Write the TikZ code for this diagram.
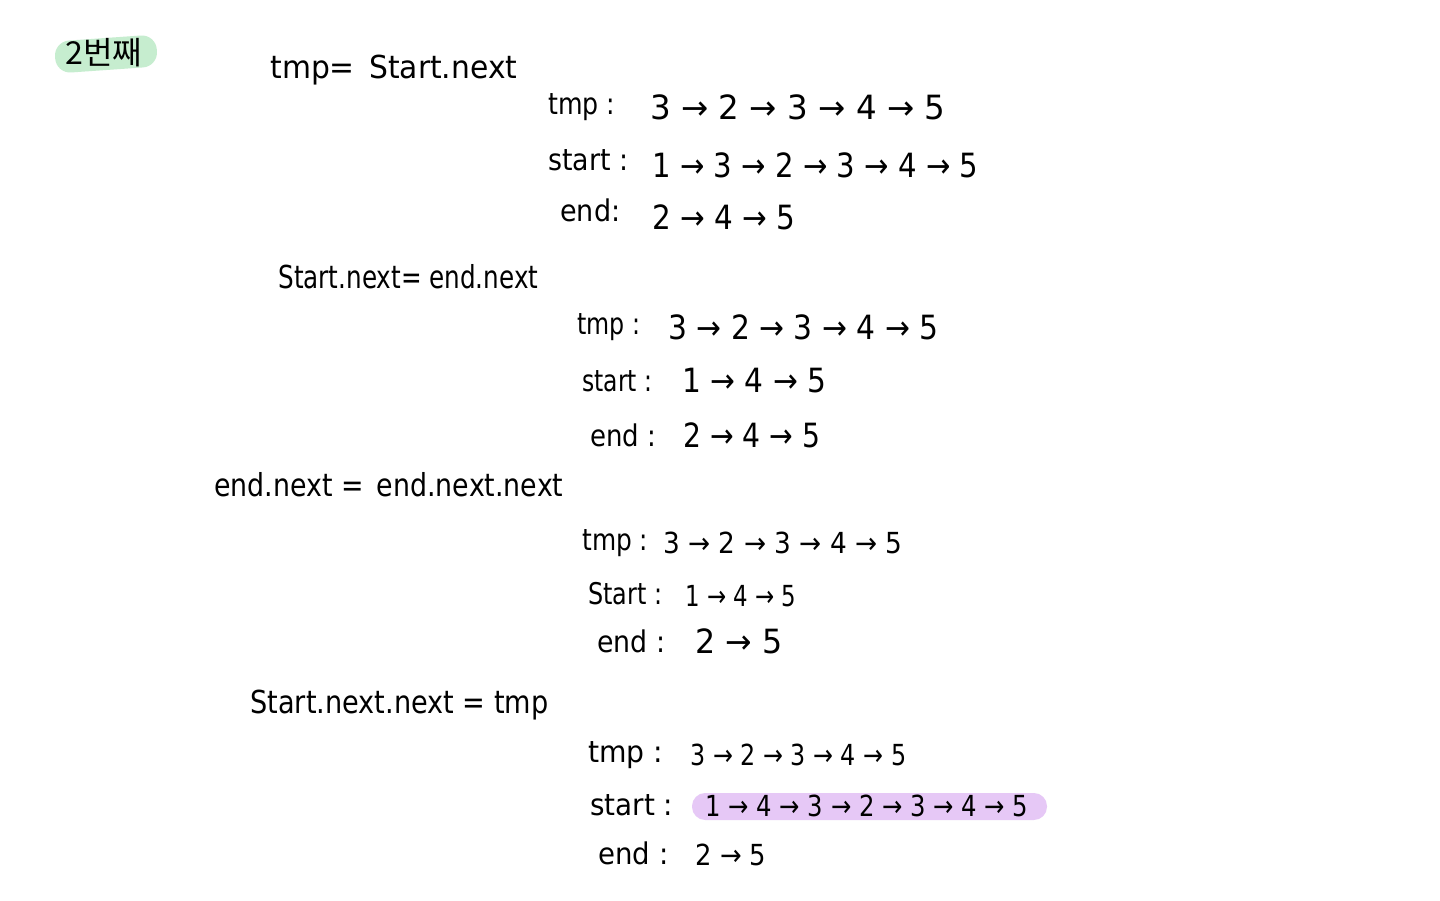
\documentclass[tikz,border=0pt]{standalone}
\usepackage{fontspec}
\setmainfont{DejaVu Sans}
\newfontfamily\krfont{Noto Sans CJK KR}
\usepackage{graphicx}
\usepackage{tikz}
\usetikzlibrary{positioning}

\definecolor{mintmark}{HTML}{C6EDCF}
\definecolor{lilacmark}{HTML}{E6C8F6}
% squeeze a line of writing to a width given in pixels
\newlength\pxu
\setlength\pxu{0.02cm}
\newcommand\fitpx[2]{\resizebox{#1\pxu}{\height}{#2}}

\begin{document}
\begin{tikzpicture}[x=0.02cm, y=-0.02cm,
  code/.style={anchor=west, inner sep=0pt, font=\fontsize{18}{21}\selectfont},
  lbl/.style={anchor=west, inner sep=0pt, font=\fontsize{17}{20}\selectfont},
  val/.style={anchor=west, inner sep=0pt, font=\fontsize{19}{22}\selectfont},
  smallval/.style={val, font=\fontsize{16.5}{19}\selectfont}]
\useasboundingbox (0,0) rectangle (1440,901);
\fill[white] (0,0) rectangle (1440,901);

% marker strokes
\fill[mintmark, rounded corners=8.5pt, rotate around={4:(106,54)}] (55,38) rectangle (157,70);
\fill[lilacmark, rounded corners=7.5pt] (692,793) rectangle (1047,820);
\node[inner sep=0pt, font=\krfont\fontsize{18}{20}\selectfont] (tag) at (104,53) {\fitpx{77}{2번째}};

% step 1
\node[code] (c1) at (270,70) {\fitpx{247}{tmp=\, Start.next}};
\node[lbl] (t1) at (548,107) {\fitpx{67}{tmp :}};
\node[val] (t1v) at (650,107) {\fitpx{295}{3 → 2 → 3 → 4 → 5}};
\node[lbl] (s1) at (548,160) {\fitpx{80}{start :}};
\node[val] (s1v) at (652,165) {\fitpx{326}{1 → 3 → 2 → 3 → 4 → 5}};
\node[lbl] (e1) at (560,210) {\fitpx{60}{end:}};
\node[val] (e1v) at (652,217) {\fitpx{143}{2 → 4 → 5}};

% step 2
\node[code] (c2) at (278,277) {\fitpx{260}{Start.next= end.next}};
\node[lbl] (t2) at (577,327) {\fitpx{63}{tmp :}};
\node[val] (t2v) at (668,327) {\fitpx{270}{3 → 2 → 3 → 4 → 5}};
\node[lbl] (s2) at (582,381) {\fitpx{70}{start :}};
\node[val] (s2v) at (682,381) {\fitpx{144}{1 → 4 → 5}};
\node[lbl] (e2) at (590,435) {\fitpx{66}{end :}};
\node[val] (e2v) at (683,435) {\fitpx{137}{2 → 4 → 5}};

% step 3
\node[code] (c3) at (214,485) {\fitpx{349}{end.next =\, end.next.next}};
\node[lbl] (t3) at (582,543) {\fitpx{66}{tmp :}};
\node[smallval] (t3v) at (663,543) {\fitpx{239}{3 → 2 → 3 → 4 → 5}};
\node[lbl] (s3) at (588,594) {\fitpx{74}{Start :}};
\node[smallval] (s3v) at (685,596) {\fitpx{111}{1 → 4 → 5}};
\node[lbl] (e3) at (597,641) {\fitpx{68}{end :}};
\node[val] (e3v) at (695,641) {\fitpx{87}{2 → 5}};

% step 4
\node[code] (c4) at (250,705) {\fitpx{298}{Start.next.next = tmp}};
\node[lbl] (t4) at (588,755) {\fitpx{75}{tmp :}};
\node[smallval] (t4v) at (690,755) {\fitpx{216}{3 → 2 → 3 → 4 → 5}};
\node[lbl] (s4) at (590,805) {\fitpx{83}{start :}};
\node[smallval] (s4v) at (705,806) {\fitpx{323}{1 → 4 → 3 → 2 → 3 → 4 → 5}};
\node[lbl] (e4) at (598,853) {\fitpx{70}{end :}};
\node[smallval] (e4v) at (695,855) {\fitpx{71}{2 → 5}};
\end{tikzpicture}
\end{document}
